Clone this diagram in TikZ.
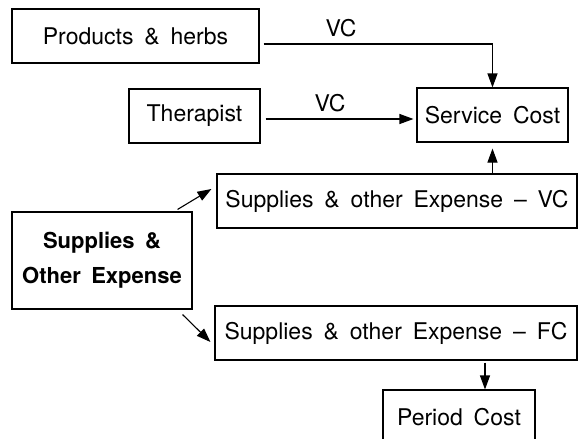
\documentclass[tikz,border=0pt]{standalone}
\usepackage{fontspec}
\setmainfont[WordSpace=1.7]{TeX Gyre Heros}
\usetikzlibrary{arrows.meta}
\tikzset{
  costbox/.style={draw, line width=1.1pt, minimum height=54pt, inner sep=0pt,
    font=\fontsize{23}{27}\selectfont},
  flow/.style={line width=1.1pt, -{Triangle[length=14pt,width=10pt]}},
  flowlabel/.style={font=\fontsize{23}{27}\selectfont, inner sep=0pt},
}

\begin{document}
\begin{tikzpicture}[x=1pt,y=-1pt]
  \useasboundingbox (0,0) rectangle (587,439);
  % boxes
  \node[costbox, minimum width=247pt] (prod) at (135.5,36) {Products \& herbs};
  \node[costbox, minimum width=131pt] (ther) at (194.5,116) {Therapist};
  \node[costbox, minimum width=151pt] (serv) at (492.5,115) {Service Cost};
  \node[costbox, minimum width=360pt] (svc) at (397,201) {Supplies \& other Expense -- VC};
  \node[costbox, minimum width=180pt, minimum height=97pt, align=center,
    font=\fontsize{22}{35}\selectfont\bfseries] (sup) at (102,260.5) {Supplies \&\\Other Expense};
  \node[costbox, minimum width=362pt] (sfc) at (396,333) {Supplies \& other Expense -- FC};
  \node[costbox, minimum width=152pt] (per) at (459,417) {Period Cost};
  % labels
  \node[flowlabel] (vcprod) at (341,28) {VC};
  \node[flowlabel] (vcther) at (330,103) {VC};
  % arrows
  \draw[flow] ([shift={(4,8)}]prod.east) -| (serv.north);
  \draw[flow] ([shift={(5,3)}]ther.east) -- ([shift={(-3,4)}]serv.west);
  \draw[flow] (serv.south |- svc.north) -- ([shift={(0,6)}]serv.south);
  \draw[flow] ([shift={(-15,-2)}]sup.north east) -- ([shift={(-5,-12)}]svc.west);
  \draw[flow] ([shift={(-10,5)}]sup.south east) -- ([shift={(-4,9)}]sfc.west);
  \coordinate (perin) at ([shift={(26,0)}]per.north);
  \draw[flow] ([shift={(0,2)}]sfc.south -| perin) -- (perin);
\end{tikzpicture}
\end{document}
